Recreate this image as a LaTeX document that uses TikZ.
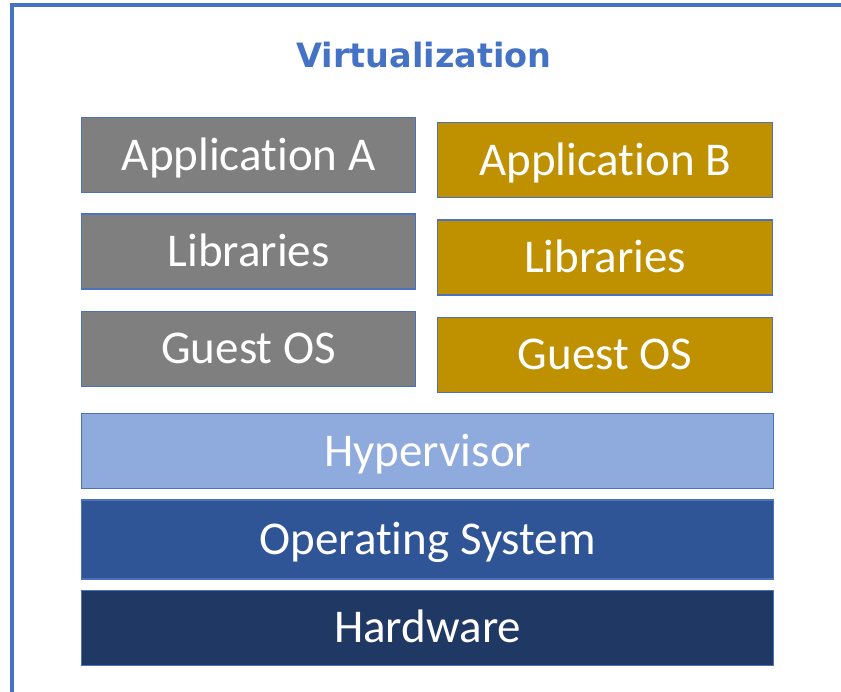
\documentclass[tikz,border=0pt]{standalone}
\usepackage{fontspec}
\setmainfont{Carlito}[RawFeature={-liga;-clig;-calt;-dlig}]
\newfontfamily\titlefont{DejaVu Sans}
\usepackage{tikz}
\usetikzlibrary{positioning}
\definecolor{framblue}{HTML}{4472C4}
\definecolor{boxline}{HTML}{4A72BE}
\definecolor{guestgray}{HTML}{7F7F7F}
\definecolor{guestgold}{HTML}{BF9000}
\definecolor{hyperblue}{HTML}{8FAADC}
\definecolor{osblue}{HTML}{2F5597}
\definecolor{hwblue}{HTML}{203864}
\tikzset{
    %Define style for the frame lines
    frameline/.style={
           draw=framblue,
           line width=4pt},
    %Define style for the heading
    heading/.style={
           text=framblue,
           font=\titlefont\bfseries\fontsize{33.5}{33.5}\selectfont,
           anchor=base},
    %Define style for boxes
    layer/.style={
           rectangle,
           draw=boxline, line width=1.3pt,
           minimum height=75pt,
           inner sep=0pt,
           text=white,
           text height=30pt,
           text depth=0pt,
           font=\fontsize{47}{47}\selectfont,
           text centered},
    guesta/.style={
           layer,
           minimum width=334pt,
           fill=guestgray},
    guestb/.style={
           layer,
           minimum width=335pt,
           fill=guestgold},
    hostlayer/.style={
           layer,
           minimum width=692pt}
}
\begin{document}
\begin{tikzpicture}[x=1pt,y=-1pt,node distance=20pt]
\useasboundingbox (0,0) rectangle (841,692);
 %frame
\draw[frameline] (12,692) -- (12,5) -- (841,5);
\node[heading](title) at (424,68){Virtualization};
 %guest A
\node[guesta, anchor=north west](appA) at (81,117){Application A};
\node[guesta, below=20pt of appA](libA){Libraries};
\node[guesta, below=21pt of libA](osA){Guest OS};
 %guest B
\node[guestb, anchor=north west](appB) at (437,122){Application B};
\node[guestb, below=21pt of appB](libB){Libraries};
\node[guestb, below=21pt of libB](osB){Guest OS};
 %host
\node[hostlayer, fill=hyperblue, anchor=north west](hyper) at (81,413){Hypervisor};
\node[hostlayer, fill=osblue, minimum height=79pt, below=10pt of hyper](hostos){Operating System};
\node[hostlayer, fill=hwblue, below=10pt of hostos](hw){Hardware};
\end{tikzpicture}
\end{document}
